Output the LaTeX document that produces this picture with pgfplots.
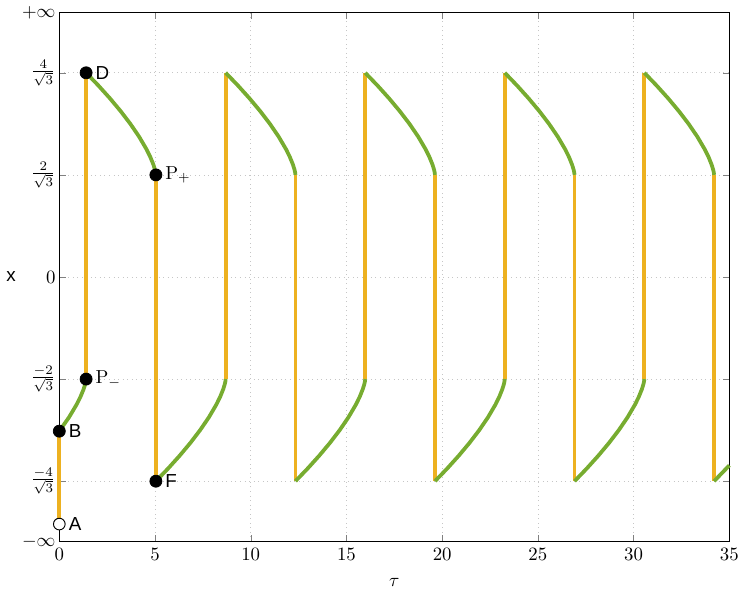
\documentclass[border=0pt]{standalone}
\usepackage{fontspec}
\usepackage{pgfplots}
\pgfplotsset{compat=1.18}
\newfontfamily\hel{Liberation Sans}
\definecolor{jump}{RGB}{237,177,32}
\definecolor{slow}{RGB}{119,172,48}
\pgfplotsset{
  slowline/.style={slow, line width=2pt, line join=round, no marks},
}
\begin{document}
\begin{tikzpicture}
\begin{axis}[
  scale only axis,
  width=356pt, height=281pt,
  xmin=0, xmax=35, ymin=-5.18, ymax=5.18,
  xtick={0,5,...,35},
  ytick={-5.18,-4,-2,0,2,4,5.18},
  yticklabels={$-\infty$,$\frac{-4}{\sqrt{3}}$,$\frac{-2}{\sqrt{3}}$,$0$,$\frac{2}{\sqrt{3}}$,$\frac{4}{\sqrt{3}}$,$+\infty$},
  yticklabel style={xshift=1.5pt},
  tick align=inside,
  major tick length=3.5pt,
  grid=major,
  major grid style={dotted, gray!45},
  xlabel={$\tau$},
  xlabel style={yshift=-3pt},
  ylabel={\hel x},
  ylabel style={rotate=-90, xshift=3.5pt},
  clip=false,
  unbounded coords=jump,
]
% fast jumps
\addplot[jump, line width=2pt, no marks] coordinates {
  (0,-4.84) (0,-3.02) (nan,nan)
  (1.40,-2) (1.40,4) (nan,nan)
  (5.045,2) (5.045,-4) (nan,nan)
  (8.69,-2) (8.69,4) (nan,nan)
  (12.335,2) (12.335,-4) (nan,nan)
  (15.98,-2) (15.98,4) (nan,nan)
  (19.625,2) (19.625,-4) (nan,nan)
  (23.27,-2) (23.27,4) (nan,nan)
  (26.915,2) (26.915,-4) (nan,nan)
  (30.56,-2) (30.56,4) (nan,nan)
  (34.205,2) (34.205,-4)
};
% slow branches
\addplot[slowline] coordinates {(0,-3.02)(0.504,-2.75)(0.902,-2.5)(1.103,-2.35)(1.268,-2.2)(1.352,-2.1)(1.382,-2.05)(1.40,-2)};
\addplot[slowline] coordinates {(1.40,4)(2.042,3.75)(2.643,3.5)(3.201,3.25)(3.711,3)(4.166,2.75)(4.557,2.5)(4.754,2.35)(4.916,2.2)(4.998,2.1)(5.028,2.05)(5.045,2)};
\addplot[slowline] coordinates {(5.045,-4)(5.687,-3.75)(6.288,-3.5)(6.846,-3.25)(7.356,-3)(7.811,-2.75)(8.202,-2.5)(8.399,-2.35)(8.561,-2.2)(8.643,-2.1)(8.673,-2.05)(8.69,-2)};
\addplot[slowline] coordinates {(8.69,4)(9.332,3.75)(9.933,3.5)(10.491,3.25)(11.001,3)(11.456,2.75)(11.847,2.5)(12.044,2.35)(12.206,2.2)(12.288,2.1)(12.318,2.05)(12.335,2)};
\addplot[slowline] coordinates {(12.335,-4)(12.977,-3.75)(13.578,-3.5)(14.136,-3.25)(14.646,-3)(15.101,-2.75)(15.492,-2.5)(15.689,-2.35)(15.851,-2.2)(15.933,-2.1)(15.963,-2.05)(15.98,-2)};
\addplot[slowline] coordinates {(15.98,4)(16.622,3.75)(17.223,3.5)(17.781,3.25)(18.291,3)(18.746,2.75)(19.137,2.5)(19.334,2.35)(19.496,2.2)(19.578,2.1)(19.608,2.05)(19.625,2)};
\addplot[slowline] coordinates {(19.625,-4)(20.267,-3.75)(20.868,-3.5)(21.426,-3.25)(21.936,-3)(22.391,-2.75)(22.782,-2.5)(22.979,-2.35)(23.141,-2.2)(23.223,-2.1)(23.253,-2.05)(23.27,-2)};
\addplot[slowline] coordinates {(23.27,4)(23.912,3.75)(24.513,3.5)(25.071,3.25)(25.581,3)(26.036,2.75)(26.427,2.5)(26.624,2.35)(26.786,2.2)(26.868,2.1)(26.898,2.05)(26.915,2)};
\addplot[slowline] coordinates {(26.915,-4)(27.557,-3.75)(28.158,-3.5)(28.716,-3.25)(29.226,-3)(29.681,-2.75)(30.072,-2.5)(30.269,-2.35)(30.431,-2.2)(30.513,-2.1)(30.543,-2.05)(30.56,-2)};
\addplot[slowline] coordinates {(30.56,4)(31.202,3.75)(31.803,3.5)(32.361,3.25)(32.871,3)(33.326,2.75)(33.717,2.5)(33.914,2.35)(34.076,2.2)(34.158,2.1)(34.188,2.05)(34.205,2)};
\addplot[slowline] coordinates {(34.205,-4)(34.847,-3.75)(35,-3.69)};
% points
\addplot[only marks, mark=*, mark size=3.2pt, black,
  nodes near coords, point meta=explicit symbolic,
  nodes near coords style={anchor=west, xshift=1.5pt, black, font=\hel}]
  coordinates {(1.40,4)[D] (0,-3.02)[B] (5.045,-4)[F]};
\addplot[only marks, mark=*, mark size=3.2pt, black,
  nodes near coords, point meta=explicit symbolic,
  nodes near coords style={anchor=west, xshift=1.5pt, black}]
  coordinates {(5.045,2)[$\mathrm{P}_+$] (1.40,-2)[$\mathrm{P}_-$]};
\addplot[only marks, mark=*, mark size=3.1pt, draw=black, fill=white, line width=0.5pt,
  nodes near coords, point meta=explicit symbolic,
  nodes near coords style={anchor=west, xshift=1.5pt, black, font=\hel}]
  coordinates {(0,-4.84)[A]};
\end{axis}
\end{tikzpicture}
\end{document}
